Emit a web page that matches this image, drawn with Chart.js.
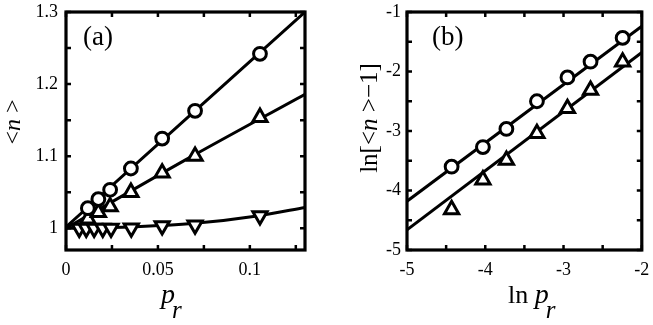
<!DOCTYPE html>
<html><head><meta charset="utf-8">
<script src="https://cdn.jsdelivr.net/npm/chart.js@4"></script>
<style>
html,body{margin:0;padding:0;background:#fff;}
#wrap{position:relative;width:653px;height:325px;background:#fff;}
#pa{position:absolute;left:0;top:0;width:327px;height:325px;}
#pb{position:absolute;left:327px;top:0;width:326px;height:325px;}
</style></head><body>
<div id="wrap"><div id="pa"><canvas id="ca" width="327" height="325"></canvas></div><div id="pb"><canvas id="cb" width="326" height="325"></canvas></div></div>
<script>
// ---------- Panel (a): <n> vs p_r ----------
const pCircle = [0.0119, 0.0176, 0.0240, 0.0353, 0.0523, 0.0702, 0.1055];
const nCircle = [1.028, 1.0405, 1.0535, 1.083, 1.1245, 1.163, 1.242];
const pUp     = [0.0119, 0.0176, 0.0240, 0.0353, 0.0523, 0.0702, 0.1055];
const nUp     = [1.013, 1.022, 1.030, 1.050, 1.077, 1.100, 1.154];
const pDown   = [0.0072, 0.0110, 0.0153, 0.0200, 0.0245, 0.0355, 0.0523, 0.0702, 0.1055];
const nDown   = [1.000, 1.000, 1.000, 1.000, 1.000, 1.0005, 1.0035, 1.0045, 1.0175];
const fitCircleP = [0, 0.065, 0.13];
const fitCircleN = [1.002, 1.151, 1.300];
const fitUpP     = [0, 0.065, 0.13];
const fitUpN     = [1.000, 1.095, 1.186];
const fitDownP   = [0, 0.035, 0.07, 0.105, 0.13];
const fitDownN   = [1.000, 1.002, 1.007, 1.0175, 1.029];
const xTicksA = [0, 0.025, 0.05, 0.075, 0.1, 0.125];
const xLabelValsA = [0, 0.05, 0.1];
const xLabelTextA = ['0', '0.05', '0.1'];
const yTicksA = [1, 1.05, 1.1, 1.15, 1.2, 1.25, 1.3];
const yLabelValsA = [1, 1.1, 1.2, 1.3];
const yLabelTextA = ['1', '1.1', '1.2', '1.3'];

// ---------- Panel (b): ln(<n>-1) vs ln p_r ----------
const lnP       = [-4.43, -4.03, -3.73, -3.34, -2.95, -2.655, -2.245];
const lnCircle  = [-3.60, -3.27, -2.965, -2.50, -2.10, -1.835, -1.435];
const lnUp      = [-4.32, -3.82, -3.49, -3.04, -2.62, -2.315, -1.84];
const fitLnP       = [-5, -2];
const fitLnCircle  = [-4.18, -1.24];
const fitLnUp      = [-4.66, -1.68];
const xTicksB = [-5, -4.5, -4, -3.5, -3, -2.5, -2];
const xLabelValsB = [-5, -4, -3, -2];
const xLabelTextB = ['-5', '-4', '-3', '-2'];
const yTicksB = [-5, -4.5, -4, -3.5, -3, -2.5, -2, -1.5, -1];
const yLabelValsB = [-5, -4, -3, -2, -1];
const yLabelTextB = ['-5', '-4', '-3', '-2', '-1'];

Chart.defaults.font.family = "'Liberation Serif', 'Times New Roman', serif";
Chart.defaults.color = '#000';

function zip(xs, ys){ return xs.map((x,i)=>({x:x, y:ys[i]})); }
function labelOf(v, vals, texts){
  for (let i=0;i<vals.length;i++) if (Math.abs(vals[i]-v) < 1e-9) return texts[i];
  return '';
}
function markerSet(xs, ys, style, radius, rot){
  return {data: zip(xs, ys), showLine:false, pointStyle:style, pointRadius:radius,
    pointRotation: rot||0, pointBorderWidth:3, pointBorderColor:'#000',
    pointBackgroundColor:'#fff', borderColor:'#000', backgroundColor:'#fff', order:0};
}
function lineSet(xs, ys, smooth){
  return {data: zip(xs, ys), showLine:true, pointRadius:0, borderWidth:3,
    borderColor:'#000', backgroundColor:'#000', fill:false, order:1,
    cubicInterpolationMode: smooth ? 'monotone' : 'default', tension: 0};
}
function drawRich(ctx, parts, x, y, rotated){
  ctx.save();
  ctx.fillStyle = '#000';
  ctx.textBaseline = 'alphabetic';
  ctx.textAlign = 'left';
  const fam = "'Liberation Serif', serif";
  let w = 0;
  parts.forEach(p=>{ ctx.font = (p.it?'italic ':'') + p.sz + 'px ' + fam; p.w = ctx.measureText(p.t).width; w += p.w + (p.gap||0); });
  ctx.translate(x, y);
  let cx = 0;
  if (rotated){ ctx.rotate(-Math.PI/2); cx = -w/2; }
  parts.forEach(p=>{ ctx.font = (p.it?'italic ':'') + p.sz + 'px ' + fam; ctx.fillText(p.t, cx, p.dy||0); cx += p.w + (p.gap||0); });
  ctx.restore();
}
function framePlugin(drawTexts){
  return {
    id: 'frame',
    afterDraw(chart){
      const ctx = chart.ctx, a = chart.chartArea, sx = chart.scales.x, sy = chart.scales.y;
      ctx.save();
      ctx.strokeStyle = '#000';
      ctx.lineWidth = 2.5;
      ctx.lineCap = 'butt';
      const L = 5;
      sx.ticks.forEach(t=>{
        const px = sx.getPixelForValue(t.value);
        ctx.beginPath();
        ctx.moveTo(px, a.bottom); ctx.lineTo(px, a.bottom - L);
        ctx.moveTo(px, a.top); ctx.lineTo(px, a.top + L);
        ctx.stroke();
      });
      sy.ticks.forEach(t=>{
        const py = sy.getPixelForValue(t.value);
        ctx.beginPath();
        ctx.moveTo(a.left, py); ctx.lineTo(a.left + L, py);
        ctx.moveTo(a.right, py); ctx.lineTo(a.right - L, py);
        ctx.stroke();
      });
      ctx.lineWidth = 3.2;
      ctx.strokeRect(a.left, a.top, a.right - a.left, a.bottom - a.top);
      ctx.restore();
      drawTexts(chart.ctx, a);
    }
  };
}
function scaleX(min, max, ticks, lv, lt){
  return {type:'linear', min:min, max:max,
    afterBuildTicks: s => { s.ticks = ticks.map(v=>({value:v})); },
    ticks:{autoSkip:false, maxRotation:0, padding:9, font:{size:18}, color:'#000',
      callback: v => labelOf(v, lv, lt)},
    grid:{display:false, drawTicks:false}, border:{display:false},
    afterFit: s => { s.height = 75; s.paddingLeft = 0; s.paddingRight = 0; }};
}
function scaleY(min, max, ticks, lv, lt, width, pad){
  return {type:'linear', min:min, max:max,
    afterBuildTicks: s => { s.ticks = ticks.map(v=>({value:v})); },
    ticks:{autoSkip:false, padding:pad, font:{size:18}, color:'#000',
      callback: v => labelOf(v, lv, lt)},
    grid:{display:false, drawTicks:false}, border:{display:false},
    afterFit: s => { s.width = width; s.paddingTop = 0; s.paddingBottom = 0; }};
}
const common = {responsive:false, animation:false, events:[],
  plugins:{legend:{display:false}, tooltip:{enabled:false}}};

new Chart(document.getElementById('ca'), {
  type:'scatter',
  data:{datasets:[
    markerSet(pCircle, nCircle, 'circle', 6.4),
    markerSet(pUp, nUp, 'triangle', 8.2),
    markerSet(pDown, nDown, 'triangle', 8.2, 180),
    lineSet(fitCircleP, fitCircleN, true),
    lineSet(fitUpP, fitUpN, true),
    lineSet(fitDownP, fitDownN, true)
  ]},
  options:Object.assign({}, common, {
    layout:{padding:{left:0, right:22, top:12, bottom:0}},
    scales:{x: scaleX(0, 0.13, xTicksA, xLabelValsA, xLabelTextA),
            y: scaleY(0.97, 1.3, yTicksA, yLabelValsA, yLabelTextA, 66, 8)}
  }),
  plugins:[framePlugin((ctx, a)=>{
    drawRich(ctx, [{t:'(a)', sz:27}], a.left + 17, a.top + 33);
    drawRich(ctx, [{t:'<', sz:24}, {t:'n', sz:24, it:true}, {t:' >', sz:24}], 20, 122, true);
    drawRich(ctx, [{t:'p', sz:28, it:true, gap:-3}, {t:'r', sz:25, it:true, dy:15}], 161, 303);
  })]
});

new Chart(document.getElementById('cb'), {
  type:'scatter',
  data:{datasets:[
    markerSet(lnP, lnCircle, 'circle', 6.4),
    markerSet(lnP, lnUp, 'triangle', 8.2),
    lineSet(fitLnP, fitLnCircle, false),
    lineSet(fitLnP, fitLnUp, false)
  ]},
  options:Object.assign({}, common, {
    layout:{padding:{left:0, right:2, top:12, bottom:0}},
    scales:{x: scaleX(-5, -2, xTicksB, xLabelValsB, xLabelTextB),
            y: scaleY(-5, -1, yTicksB, yLabelValsB, yLabelTextB, 80, 6)}
  }),
  plugins:[framePlugin((ctx, a)=>{
    drawRich(ctx, [{t:'(b)', sz:27}], a.left + 25, a.top + 33);
    drawRich(ctx, [{t:'ln[<', sz:25}, {t:'n', sz:25, it:true}, {t:' >\u22121]', sz:25}], 50, 118, true);
    drawRich(ctx, [{t:'ln ', sz:26}, {t:'p', sz:28, it:true, gap:-3}, {t:'r', sz:25, it:true, dy:15}], 181, 303);
  })]
});
</script>
</body></html>
